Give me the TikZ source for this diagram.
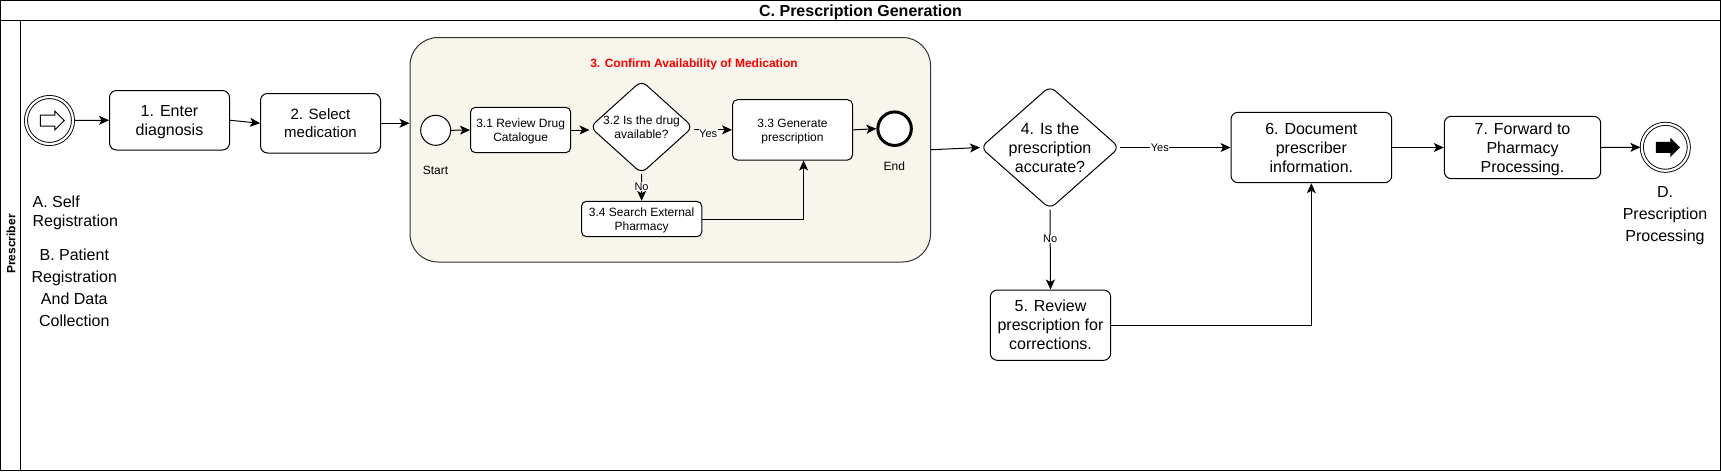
\documentclass[tikz,border=0pt]{standalone}
\usepackage{fontspec}
\setmainfont{Liberation Sans}
\usetikzlibrary{arrows.meta,shapes.geometric,shapes.arrows}
\definecolor{groupfill}{HTML}{F7F5EC}
\definecolor{groupline}{HTML}{333333}
\newcommand{\fontpx}[2]{\fontsize{#1}{#2}\selectfont}
\tikzset{
	flat/.style={text depth=0pt},
	lowered/.style={execute at begin node=\rule{0pt}{#1}},
	taskbox/.style={draw,fill=white,line width=1pt,rounded corners=7pt,inner sep=0pt,align=center,flat,font=\fontpx{16}{19}},
	subbox/.style={taskbox,rounded corners=5pt,font=\fontpx{12}{14}},
	decision/.style={diamond,draw,fill=white,line width=1pt,rounded corners=7pt,inner sep=0pt},
	doubleevent/.style={circle,draw,fill=white,double,line width=.9pt,double distance=2.2pt,outer sep=1.5pt,inner sep=0pt,minimum size=47pt},
	icon/.style={single arrow,draw=black,line width=1pt,inner xsep=0pt,inner ysep=5pt,minimum height=24pt,single arrow head extend=4pt},
	flow/.style={draw,line width=1pt,-{Stealth[length=10pt,width=9pt,inset=2.5pt]}},
	flowlabel/.style={fill=white,inner sep=.5pt,font=\fontpx{11}{13}},
	note/.style={inner sep=0pt,align=center,flat,font=\fontpx{16}{22}},
	smallnote/.style={inner sep=0pt,font=\fontpx{12}{14}},
	frame/.style={draw,line width=1pt,inner sep=0pt,flat}
}
\newcommand{\drawtask}[6]{
	\pgfmathsetmacro{\boxw}{#4-#2}
	\pgfmathsetmacro{\boxh}{#5-#3}
	\pgfmathsetmacro{\boxx}{(#2+#4)/2}
	\pgfmathsetmacro{\boxy}{(#3+#5)/2}
	\node[#1,minimum width=\boxw pt,minimum height=\boxh pt] at (\boxx,\boxy) #6;
}
\begin{document}
\begin{tikzpicture}[x=1pt,y=-1pt]
	\useasboundingbox (0,0) rectangle (1721,472);
	% frame
	\drawtask{frame,font=\fontpx{16}{19}\bfseries}{.5}{.5}{1720.5}{20}{(pool) {C. Prescription Generation}}
	\drawtask{frame}{.5}{20}{20.5}{470.5}{(lanehead) {}}
	\drawtask{frame}{.5}{20}{1720.5}{470.5}{(lane) {}}
	\node[rotate=90,inner sep=0pt,font=\fontpx{12}{14}\bfseries] (lanename) at (11,244) {Prescriber};
	% main row
	\node[doubleevent] (begin) at (49.5,120.5) {};
	\node[icon,fill=white] (beginicon) at (49.5,120.5) {};
	\drawtask{taskbox,lowered=14pt}{109.5}{90.5}{229.5}{150}{(enter) {1. Enter\\diagnosis}}
	\drawtask{taskbox,lowered=15pt,font=\fontpx{15}{18}}{260.5}{93.5}{380.5}{153}{(select) {2. Select\\medication}}
	\node[inner sep=0pt,align=left,flat,font=\fontpx{16}{19}] (selfreg) at (75.3,211) {A. Self\\Registration};
	\node[note] (patientreg) at (74.3,287.5) {B. Patient\\Registration\\And Data\\Collection};
	% sub process
	\drawtask{draw=groupline,fill=groupfill,line width=1pt,rounded corners=28pt}{410}{37.5}{930.5}{262}{(confirm) {}}
	\node[inner sep=0pt,text=red,font=\fontpx{12}{14}\bfseries] (confirmname) at (694,64) {3. Confirm Availability of Medication};
	\node[circle,draw,fill=white,line width=1pt,inner sep=0pt,minimum size=30pt] (substart) at (435.7,130.3) {};
	\node[smallnote] (substartname) at (435.5,170) {Start};
	\drawtask{subbox}{470.5}{107.3}{570.7}{152.7}{(review) {3.1 Review Drug\\Catalogue}}
	\drawtask{decision,font=\fontpx{12}{14}}{590}{80.5}{693}{173.5}{(available) {} node[inner sep=0pt,align=center,flat,font=\fontpx{12}{14}] (availabletext) at (641.5,127) {3.2 Is the drug\\available?}}
	\drawtask{subbox}{732.5}{99.7}{852.5}{160}{(generate) {3.3 Generate\\prescription}}
	\drawtask{subbox}{581.5}{201.3}{701.8}{236.7}{(search) {3.4 Search External\\Pharmacy}}
	\node[circle,draw,fill=white,line width=3pt,inner sep=0pt,minimum size=33.5pt] (subend) at (894.6,128.7) {};
	\node[smallnote] (subendname) at (894.3,166.7) {End};
	\coordinate (bend) at (803.6,219);
	% right part
	\drawtask{decision}{980.5}{86}{1119.5}{209}{(accurate) {} node[inner sep=0pt,align=center,flat,font=\fontpx{16}{19}] (accuratetext) at (1050,147.7) {4. Is the\\prescription\\accurate?}}
	\drawtask{taskbox,lowered=13.5pt}{990.3}{290}{1110.7}{360.3}{(corrections) {5. Review\\prescription for\\corrections.}}
	\drawtask{taskbox,lowered=13.5pt}{1231}{112.3}{1391.7}{182.7}{(document) {6. Document\\prescriber\\information.}}
	\drawtask{taskbox}{1444.3}{116.3}{1600.7}{178.7}{(forward) {7. Forward to\\Pharmacy\\Processing.}}
	\node[doubleevent] (finish) at (1665.3,147.3) {};
	\node[icon,fill=black,minimum height=23pt,inner ysep=4.5pt,single arrow head extend=3.5pt] (finishicon) at (1665.3,147.3) {};
	\node[note] (nextstep) at (1665,213.8) {D.\\Prescription\\Processing};
	% connectors
	\draw[flow] (begin.east) -- (enter.west);
	\draw[flow] (enter.east) -- (select.west);
	\draw[flow] (select.east) -- (select.east -| confirm.west);
	\draw[flow] (substart.east) -- (review.west);
	\draw[flow] (review.east) -- (review.east -| available.west);
	\draw[flow] (available.east |- generate.west) -- (generate.west) node[flowlabel,pos=.38,yshift=-3.5pt] (yesinner) {Yes};
	\draw[flow] (available.south) -- (search.north) node[flowlabel,pos=.47] (noinner) {No};
	\draw[flow] (search.east) -| (bend |- generate.south);
	\draw[flow] (generate.east) -- (subend.west);
	\draw[flow] (confirm.east) -- (accurate.west);
	\draw[flow] (accurate.east) -- (accurate.east -| document.west) node[flowlabel,pos=.36] (yesouter) {Yes};
	\draw[flow] (accurate.south) -- (corrections.north) node[flowlabel,pos=.37] (noouter) {No};
	\draw[flow] (corrections.east) -| (document.south);
	\draw[flow] (document.east) -- (document.east -| forward.west);
	\draw[flow] (forward.east) -- (finish.west);
\end{tikzpicture}
\end{document}
